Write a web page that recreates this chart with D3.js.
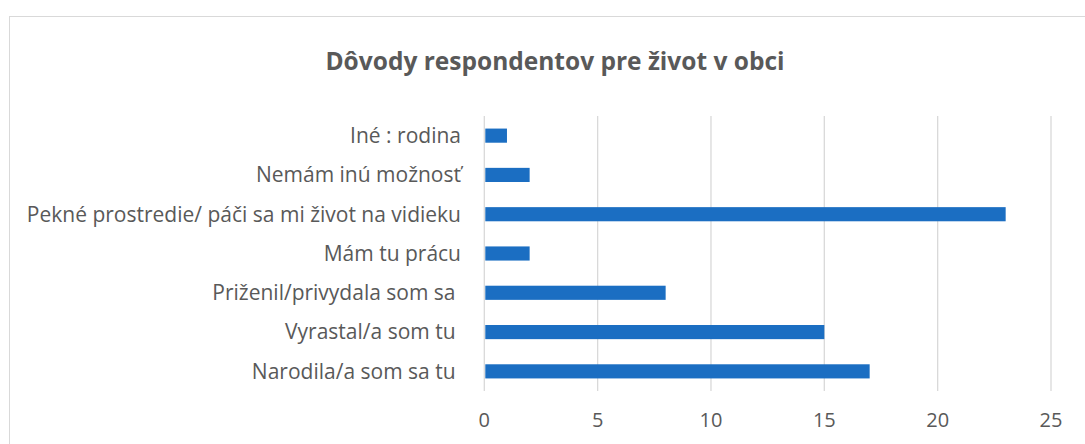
<!DOCTYPE html>
<html>
<head>
<meta charset="utf-8">
<script src="https://cdn.jsdelivr.net/npm/d3@7"></script>
<style>
    body { margin: 0; background: #fff; }
    text { font-family: "Open Sans", sans-serif; fill: #595959; }
</style>
</head>
<body>
<svg id="chart" width="1085" height="444"></svg>
<script>
// data, top to bottom
const categories = [
    "Iné : rodina",
    "Nemám inú možnosť",
    "Pekné prostredie/ páči sa mi život na vidieku",
    "Mám tu prácu",
    "Priženil/privydala som sa ",
    "Vyrastal/a som tu ",
    "Narodila/a som sa tu "
]
const counts = [1, 2, 23, 2, 8, 15, 17]
const xTicks = [0, 5, 10, 15, 20, 25]
const title = "Dôvody respondentov pre život v obci"

const svg = d3.select("#chart")

// chart frame (cut off at right and bottom like the source)
svg.append("rect")
    .attr("x", 9.5)
    .attr("y", 16.5)
    .attr("width", 1200)
    .attr("height", 500)
    .attr("fill", "#fff")
    .attr("stroke", "#d9d9d9")

const plot = { left: 484.3, right: 1051, top: 116, bottom: 391 }

const x = d3.scaleLinear()
    .domain([0, 25])
    .range([plot.left, plot.right])

const y = d3.scaleBand()
    .domain(categories)
    .range([plot.top, plot.bottom])
    .paddingInner(0.64)
    .paddingOuter(0.32)

// gridlines
svg.append("g")
    .selectAll("line")
    .data(xTicks)
    .enter()
    .append("line")
    .attr("x1", d => x(d))
    .attr("x2", d => x(d))
    .attr("y1", plot.top)
    .attr("y2", plot.bottom)
    .attr("stroke", "#d9d9d9")
    .attr("stroke-width", 1.3)

// bars
svg.append("g")
    .selectAll("rect")
    .data(counts)
    .enter()
    .append("rect")
    .attr("x", x(0) + 1)
    .attr("y", (d, i) => y(categories[i]))
    .attr("width", d => x(d) - x(0) - 1)
    .attr("height", y.bandwidth())
    .attr("fill", "#1b6ec2")

// category labels
svg.append("g")
    .selectAll("text")
    .data(categories)
    .enter()
    .append("text")
    .attr("x", 461)
    .attr("y", d => y(d) + y.bandwidth() / 2)
    .attr("dy", "0.35em")
    .attr("text-anchor", "end")
    .style("white-space", "pre")
    .style("font-size", "21px")
    .text(d => d)

// x tick labels
svg.append("g")
    .selectAll("text")
    .data(xTicks)
    .enter()
    .append("text")
    .attr("x", d => x(d))
    .attr("y", 420)
    .attr("dy", "0.35em")
    .attr("text-anchor", "middle")
    .style("font-size", "20px")
    .text(d => d)

// title
svg.append("text")
    .attr("x", 555)
    .attr("y", 70)
    .attr("text-anchor", "middle")
    .style("font-size", "24.5px")
    .style("font-weight", "bold")
    .text(title)
</script>
</body>
</html>
